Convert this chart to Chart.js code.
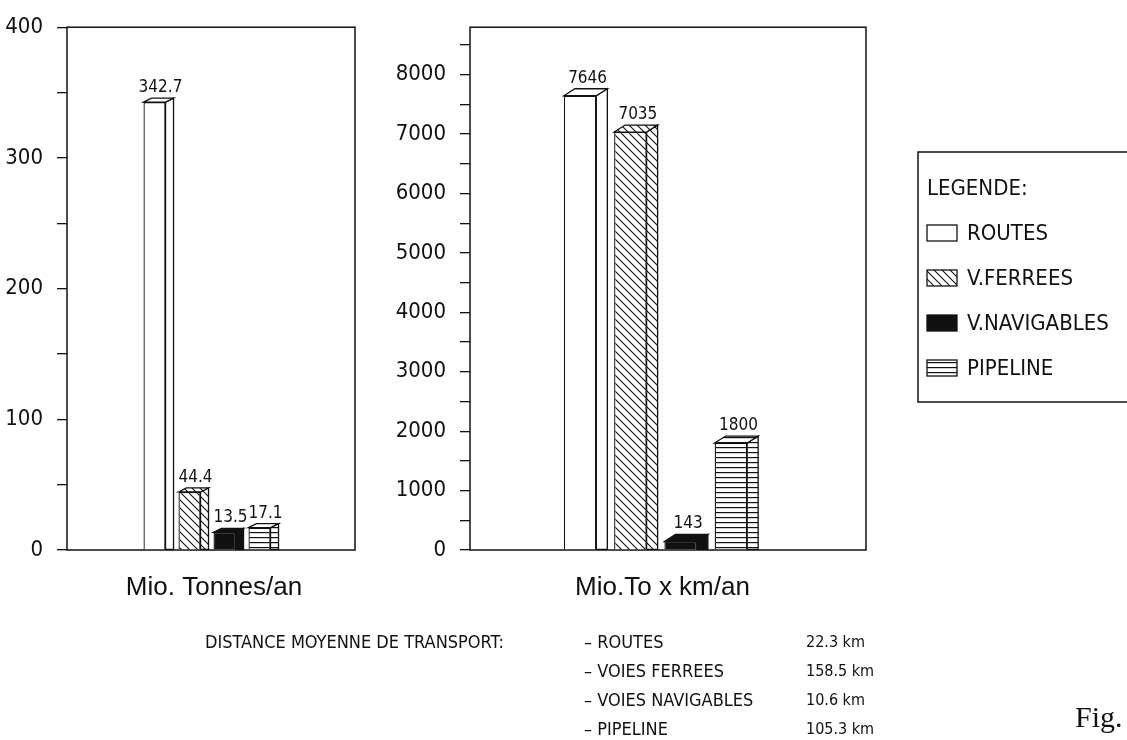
<!DOCTYPE html>
<html>
<head>
<meta charset="utf-8">
<script src="https://cdn.jsdelivr.net/npm/chart.js@4.4.1/dist/chart.umd.min.js"></script>
<style>
  body { margin: 0; background: #fff; width: 1127px; height: 740px; overflow: hidden; position: relative; }
  canvas { position: absolute; left: 0; top: 0; }
  .note { position: absolute; font-family: "DejaVu Sans Condensed", "DejaVu Sans", sans-serif; font-size: 18px; color: #111; white-space: nowrap; line-height: 20px; }
  .note.km { font-size: 16px; }
  #fig { position: absolute; left: 1075px; top: 700px; font-family: "Liberation Serif", serif; font-size: 30px; color: #111; }
</style>
</head>
<body>
<canvas id="tonnes" width="1127" height="740"></canvas>
<canvas id="tonneKm" width="1127" height="740"></canvas>
<div id="notes"></div>
<div id="fig">Fig.</div>
<script>
// transport modes and values
const modes = ['ROUTES', 'V.FERREES', 'V.NAVIGABLES', 'PIPELINE'];
const tonnesPerYear = [342.7, 44.4, 13.5, 17.1];
const tonneKmPerYear = [7646, 7035, 143, 1800];
const distanceLabels = ['– ROUTES', '– VOIES FERREES', '– VOIES NAVIGABLES', '– PIPELINE'];
const distanceValues = ['22.3 km', '158.5 km', '10.6 km', '105.3 km'];

const ink = '#111';
const narrow = '"DejaVu Sans Condensed", "DejaVu Sans", sans-serif';

function makeFill(kind) {
  if (kind == 'white') return '#fff';
  if (kind == 'black') return ink;
  let c = document.createElement('canvas');
  let g = c.getContext('2d');
  if (kind == 'diag') {
    c.width = 8; c.height = 8;
    g.fillStyle = '#fff'; g.fillRect(0, 0, 8, 8);
    g.strokeStyle = ink; g.lineWidth = 1.1;
    g.beginPath();
    g.moveTo(-1, -1); g.lineTo(9, 9);
    g.moveTo(-1, 7); g.lineTo(1, 9);
    g.moveTo(7, -1); g.lineTo(9, 1);
    g.stroke();
  } else {
    c.width = 4; c.height = 5;
    g.fillStyle = '#fff'; g.fillRect(0, 0, 4, 5);
    g.fillStyle = ink; g.fillRect(0, 2, 4, 1.2);
  }
  return g.createPattern(c, 'repeat');
}
const fills = [makeFill('white'), makeFill('diag'), makeFill('black'), makeFill('horiz')];

// box round the plot area
const framePlugin = {
  id: 'frame',
  beforeDatasetsDraw(chart, args, o) {
    const a = chart.chartArea, ctx = chart.ctx;
    ctx.save();
    ctx.strokeStyle = ink; ctx.lineWidth = 1.5;
    ctx.strokeRect(a.left, a.top, a.right - a.left + o.extraRight, a.bottom - a.top);
    ctx.restore();
  }
};

// side and top faces, then the value above each bar
const bar3dPlugin = {
  id: 'bar3d',
  afterDatasetsDraw(chart, args, o) {
    const ctx = chart.ctx;
    ctx.save();
    ctx.strokeStyle = ink; ctx.lineWidth = 1.3;
    chart.data.datasets.forEach((ds, i) => {
      chart.getDatasetMeta(i).data.forEach((bar, j) => {
        const l = bar.x - bar.width / 2, r = bar.x + bar.width / 2, t = bar.y, b = bar.base;
        ctx.fillStyle = ds.backgroundColor;
        ctx.beginPath();
        ctx.moveTo(r, t); ctx.lineTo(r + o.dx, t - o.dy); ctx.lineTo(r + o.dx, b); ctx.lineTo(r, b);
        ctx.closePath(); ctx.fill(); ctx.stroke();
        ctx.beginPath();
        ctx.moveTo(l, t); ctx.lineTo(l + o.dx, t - o.dy); ctx.lineTo(r + o.dx, t - o.dy); ctx.lineTo(r, t);
        ctx.closePath(); ctx.fill(); ctx.stroke();
        ctx.fillStyle = ink;
        ctx.font = '17px ' + narrow;
        ctx.textAlign = 'center'; ctx.textBaseline = 'bottom';
        ctx.fillText(String(ds.data[j]), bar.x + o.dx / 2 + 2, t - o.dy - 2);
      });
    });
    ctx.restore();
  }
};

const legendPlugin = {
  id: 'legendBox',
  afterDraw(chart, args, o) {
    if (!o.show) return;
    const ctx = chart.ctx;
    ctx.save();
    ctx.strokeStyle = ink; ctx.lineWidth = 1.5;
    ctx.strokeRect(o.x, o.y, o.w, o.h);
    ctx.font = '22px ' + narrow;
    ctx.fillStyle = ink; ctx.textBaseline = 'middle'; ctx.textAlign = 'left';
    ctx.fillText('LEGENDE:', o.x + 9, o.titleY);
    chart.data.datasets.forEach((ds, i) => {
      const y = o.firstY + i * o.rowGap;
      ctx.fillStyle = ds.backgroundColor;
      ctx.fillRect(o.x + 9, y - 8, 30, 16);
      ctx.lineWidth = 1.3;
      ctx.strokeRect(o.x + 9, y - 8, 30, 16);
      ctx.fillStyle = ink;
      ctx.fillText(ds.label, o.x + 49, y + 1);
    });
    ctx.restore();
  }
};

function buildChart(id, axisLabel, values, opt) {
  return new Chart(document.getElementById(id), {
    type: 'bar',
    data: {
      labels: [axisLabel],
      datasets: modes.map((m, i) => ({
        label: m,
        data: [values[i]],
        backgroundColor: fills[i],
        borderColor: ink,
        borderWidth: 1.3,
        categoryPercentage: opt.catPct,
        barPercentage: opt.barPct
      }))
    },
    options: {
      responsive: false,
      animation: false,
      devicePixelRatio: 1,
      layout: { padding: opt.padding },
      plugins: {
        legend: { display: false },
        tooltip: { enabled: false },
        frame: { extraRight: opt.extraRight },
        bar3d: { dx: opt.dx, dy: opt.dy },
        legendBox: opt.legend
      },
      scales: {
        x: {
          grid: { display: false, drawTicks: false },
          border: { display: false },
          ticks: { color: ink, padding: 22, labelOffset: 7, font: { family: 'Liberation Sans', size: 26 } },
          afterFit: s => { s.height = 70; }
        },
        y: {
          min: 0,
          max: opt.max,
          border: { display: false },
          grid: { drawOnChartArea: false, drawTicks: true, tickLength: 10, color: ink, lineWidth: 1.3 },
          ticks: {
            autoSkip: false,
            padding: 14,
            color: ink,
            font: { family: narrow, size: 22 },
            callback: v => (v % opt.labelStep === 0 ? v : '')
          },
          // a tick mark every step, labels only on the round values
          afterBuildTicks: s => {
            const t = [];
            for (let v = 0; v <= opt.max; v += opt.step) t.push({ value: v });
            s.ticks = t;
          },
          afterFit: s => { s.width = opt.axisWidth; }
        }
      }
    },
    plugins: [framePlugin, bar3dPlugin, legendPlugin]
  });
}

buildChart('tonnes', 'Mio. Tonnes/an', tonnesPerYear, {
  max: 400, step: 50, labelStep: 100, axisWidth: 67,
  padding: { left: 0, right: 780, top: 27, bottom: 120 },
  catPct: 0.5, barPct: 0.63, extraRight: 8, dx: 8, dy: 4,
  legend: { show: false }
});

buildChart('tonneKm', 'Mio.To x km/an', tonneKmPerYear, {
  max: 8800, step: 500, labelStep: 1000, axisWidth: 90,
  padding: { left: 380, right: 286, top: 27, bottom: 120 },
  catPct: 0.542, barPct: 0.646, extraRight: 25, dx: 11, dy: 7,
  legend: { show: true, x: 918, y: 152, w: 240, h: 250, titleY: 189, firstY: 233, rowGap: 45 }
});

// average transport distance block under the charts
const notes = document.getElementById('notes');
function addNote(text, x, y, cls) {
  const d = document.createElement('div');
  d.className = 'note' + (cls ? ' ' + cls : '');
  d.textContent = text;
  d.style.left = x + 'px';
  d.style.top = (y - 10) + 'px';
  notes.appendChild(d);
}
addNote('DISTANCE MOYENNE DE TRANSPORT:', 205, 642);
distanceLabels.forEach((t, i) => {
  addNote(t, 584, 642 + i * 29);
  addNote(distanceValues[i], 806, 642 + i * 29, 'km');
});
</script>
</body>
</html>
